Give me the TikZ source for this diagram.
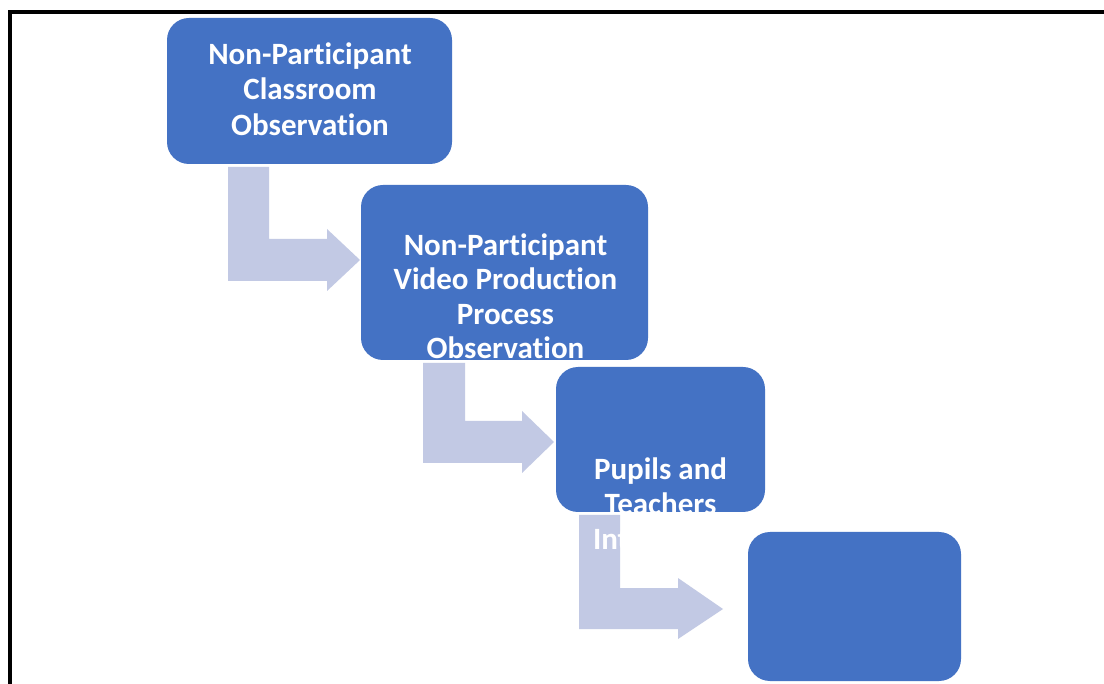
\documentclass[tikz,border=0pt]{standalone}
\usepackage{fontspec}
\setmainfont{Carlito}[Ligatures={NoCommon}]
\definecolor{boxblue}{HTML}{4472C4}
\definecolor{arrowblue}{HTML}{C2C9E4}
\tikzset{
  stepbox/.style={draw=none, fill=boxblue, rounded corners=22pt, inner sep=0pt},
  lbl/.style={anchor=base, inner sep=0pt, text=white, font=\fontsize{31}{35.5}\selectfont\bfseries},
  bentarrow/.style={fill=arrowblue, draw=none}
}
\begin{document}
\begin{tikzpicture}[x=1pt, y=-1pt]
\useasboundingbox (0,0) rectangle (1104,684);
\clip (0,0) rectangle (1104,684);
\fill[white] (0,0) rectangle (1104,684);
% frame
\draw[line width=4pt] (10,700) -- (10,11.7) -- (1120,11.7);
% bent arrows
\fill[bentarrow] (228,167) -- (269,167) -- (269,239) -- (327,239) -- (327,229) -- (360,260) -- (327,291) -- (327,281) -- (228,281) -- cycle;
\fill[bentarrow] (423,363) -- (465,363) -- (465,421) -- (522,421) -- (522,411) -- (554,442) -- (522,473) -- (522,463) -- (423,463) -- cycle;
\fill[bentarrow] (579,515) -- (620,515) -- (620,588) -- (678,588) -- (678,578) -- (723,609) -- (678,639) -- (678,629) -- (579,629) -- cycle;
% boxes
\node[stepbox, minimum width=285pt, minimum height=146pt] (b1) at (309.5,91) {};
\node[stepbox, minimum width=287pt, minimum height=175pt] (b2) at (504.5,272.5) {};
\node[stepbox, minimum width=209pt, minimum height=145pt] (b3) at (660.5,439.5) {};
\node[stepbox, minimum width=213pt, minimum height=149pt] (b4) at (854.5,606.5) {};
% texts
\node[lbl] (t1a) at (310,65) {Non-Participant};
\node[lbl] (t1b) at (310,100) {Classroom};
\node[lbl] (t1c) at (310,136) {Observation};
\node[lbl] (t2a) at (505.5,256) {Non-Participant};
\node[lbl] (t2b) at (505.5,290) {Video Production};
\node[lbl] (t2c) at (505.5,325) {Process};
\node[lbl] (t2d) at (505.5,359) {Observation};
\node[lbl] (t3a) at (660.5,480) {Pupils and};
\node[lbl] (t3b) at (660.5,515) {Teachers};
\node[lbl] (t3c) at (660.5,550) {Interviews};
\end{tikzpicture}
\end{document}
